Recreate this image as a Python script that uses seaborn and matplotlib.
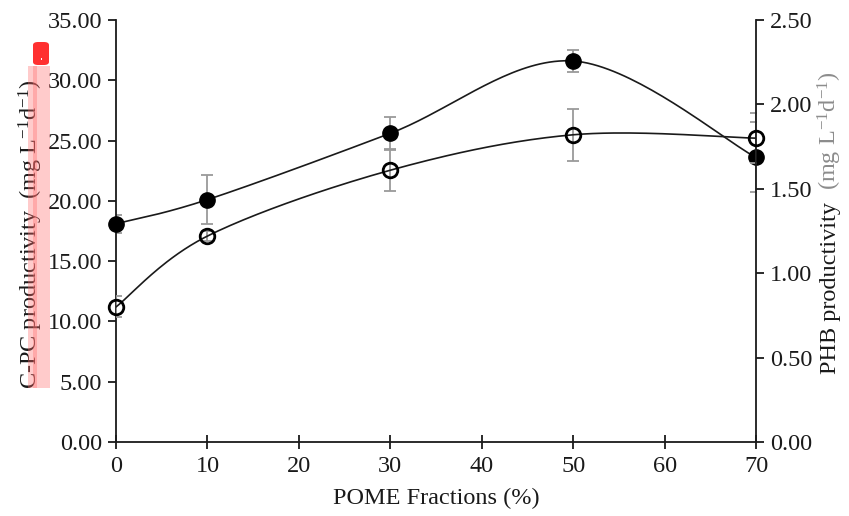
import numpy as np
import pandas as pd
import matplotlib
matplotlib.use("Agg")
import matplotlib.pyplot as plt
import matplotlib.ticker as ticker
from matplotlib.patches import Rectangle, FancyBboxPatch
import seaborn as sns

sns.set_theme(style="ticks")
plt.rcParams["font.family"] = ["Liberation Serif", "DejaVu Serif"]
plt.rcParams["mathtext.fontset"] = "custom"
plt.rcParams["mathtext.rm"] = "Liberation Serif"
plt.rcParams["mathtext.it"] = "Liberation Serif"

# ── data ──────────────────────────────────────────────────────────────────────
pome     = [0, 10, 30, 50, 70]
cpc      = [18.1, 20.1, 25.6, 31.6, 23.6]
cpc_err  = [0.75, 2.05, 1.35, 0.90, 2.90]
phb      = [0.80, 1.22, 1.61, 1.82, 1.80]
phb_err  = [0.062, 0.03, 0.124, 0.155, 0.148]

LEFT_TICKS  = [0, 5, 10, 15, 20, 25, 30, 35]
RIGHT_TICKS = [0, 0.5, 1.0, 1.5, 2.0, 2.5]
X_TICKS     = [0, 10, 20, 30, 40, 50, 60, 70]

FS = 17.5
INK = "#1a1a1a"
ERR = "#9a9a9a"


def smooth(x, y, n=40):
    """Excel-style smoothed line (Bezier through points, 1/6 tangents)."""
    p = np.column_stack([x, y]).astype(float)
    pts = np.vstack([p[0], p, p[-1]])
    out = []
    t = np.linspace(0, 1, n)[:, None]
    for i in range(1, len(pts) - 2):
        p0, p1 = pts[i], pts[i + 1]
        c1 = p0 + (pts[i + 1] - pts[i - 1]) / 6
        c2 = p1 - (pts[i + 2] - pts[i]) / 6
        seg = ((1 - t) ** 3) * p0 + 3 * ((1 - t) ** 2) * t * c1 \
            + 3 * (1 - t) * t ** 2 * c2 + t ** 3 * p1
        out.append(seg if i == 1 else seg[1:])
    s = np.vstack(out)
    return pd.DataFrame({"x": s[:, 0], "y": s[:, 1]})


fig = plt.figure(figsize=(8.49, 5.16), dpi=100)
ax = fig.add_axes([116 / 849, 74 / 516, 640 / 849, 422 / 516])
ax2 = ax.twinx()

# ── C-PC (filled, left axis) ──────────────────────────────────────────────────
sc = smooth(pome, cpc)
sns.lineplot(data=sc, x="x", y="y", ax=ax, sort=False, color=INK,
             linewidth=1.2, zorder=2)
ax.errorbar(pome, cpc, yerr=cpc_err, fmt="none", ecolor=ERR,
            elinewidth=1.3, capsize=4.5, capthick=1.3, zorder=1)
ax.plot(pome, cpc, "o", color="black", markersize=11, zorder=4, clip_on=False)

# ── PHB (open, right axis) ────────────────────────────────────────────────────
sp = smooth(pome, phb)
sns.lineplot(data=sp, x="x", y="y", ax=ax2, sort=False, color=INK,
             linewidth=1.2, zorder=2)
ax2.errorbar(pome, phb, yerr=phb_err, fmt="none", ecolor=ERR,
             elinewidth=1.3, capsize=4.5, capthick=1.3, zorder=1)
ax2.plot(pome, phb, "o", markerfacecolor="none", markeredgecolor="black",
         markeredgewidth=2.0, markersize=10.5, zorder=4, clip_on=False)

# ── axes styling ──────────────────────────────────────────────────────────────
ax.set_xlim(0, 70)
ax.set_ylim(0, 35)
ax2.set_ylim(0, 2.5)
ax.set_xticks(X_TICKS)
ax.set_yticks(LEFT_TICKS)
ax2.set_yticks(RIGHT_TICKS)
ax.yaxis.set_major_formatter(ticker.FormatStrFormatter("%.2f"))
ax2.yaxis.set_major_formatter(ticker.FormatStrFormatter("%.2f"))

for a in (ax, ax2):
    a.spines["top"].set_visible(False)
    for s in ("left", "right", "bottom"):
        a.spines[s].set_color(INK)
        a.spines[s].set_linewidth(1.3)
    a.set_facecolor("none")
    a.set_xlabel("")
    a.set_ylabel("")
ax.spines["right"].set_visible(False)
ax2.spines["left"].set_visible(False)
ax2.spines["bottom"].set_visible(False)

ax.tick_params(axis="x", direction="inout", length=10, width=1.3, color=INK,
               labelsize=FS, labelcolor=INK, pad=5)
ax.tick_params(axis="y", direction="out", length=6, width=1.3, color=INK,
               labelsize=FS, labelcolor=INK, pad=4)
ax2.tick_params(axis="y", direction="out", length=6, width=1.3, color=INK,
                labelsize=FS, labelcolor=INK, pad=4)

ax.set_xlabel("POME Fractions (%)", fontsize=FS, color=INK, labelpad=8)
fig.text(0.036, 1 - 234 / 516, r"C-PC productivity  (mg L$^{-1}$d$^{-1}$)",
         rotation=90, ha="center", va="center", fontsize=FS, color=INK)

t1 = fig.text(0.978, 1 - 374 / 516, "PHB productivity  ",
              rotation=90, ha="center", va="bottom", fontsize=FS, color=INK)
fig.canvas.draw()
bb = t1.get_window_extent().transformed(fig.transFigure.inverted())
fig.text(0.978, bb.y1, r"(mg L$^{-1}$d$^{-1}$)", rotation=90, ha="center",
         va="bottom", fontsize=FS, color="#8c8c8c")

# ── highlight annotation on left label ────────────────────────────────────────
fig.patches.append(Rectangle((28 / 849, (516 - 388) / 516), 22 / 849, 322 / 516,
                             transform=fig.transFigure, facecolor="#ff6b6b",
                             alpha=0.35, edgecolor="none", zorder=5))
fig.patches.append(Rectangle((33 / 849, (516 - 388) / 516), 4 / 849, 322 / 516,
                             transform=fig.transFigure, facecolor="#ff6b6b",
                             alpha=0.35, edgecolor="none", zorder=5))
fig.patches.append(FancyBboxPatch((33 / 849, (516 - 65) / 516), 16 / 849, 23 / 516,
                                  boxstyle="round,pad=0,rounding_size=0.006",
                                  transform=fig.transFigure, facecolor="#ff3030",
                                  edgecolor="none", zorder=6))
fig.patches.append(Rectangle((40.5 / 849, (516 - 60) / 516), 1.5 / 849, 2 / 516,
                             transform=fig.transFigure, facecolor="white",
                             edgecolor="none", zorder=7))

fig.savefig("out.png", dpi=100, facecolor="white")
